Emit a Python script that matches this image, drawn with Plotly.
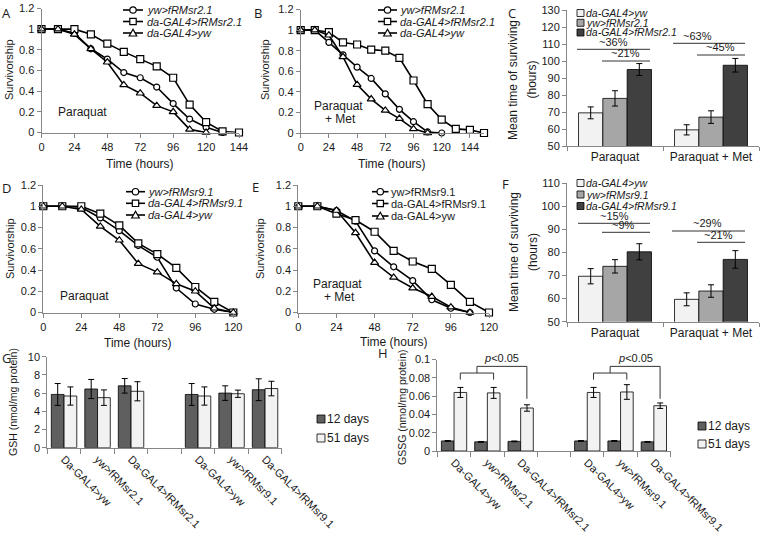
import plotly.graph_objects as go

W, H = 760, 538
def px(x): return x / W
def py(y): return 1 - y / H

# ---------------- DATA ----------------
hours_13 = [0, 12, 24, 36, 48, 60, 72, 84, 96, 108, 120, 132, 144, 156]

# Panel A (fRMsr2.1, Paraquat)
A_yw_fRMsr21 = [1, 1, 0.96, 0.81, 0.71, 0.58, 0.53, 0.44, 0.28, 0.13, 0.05, 0]
A_da_fRMsr21 = [1, 1, 1, 0.95, 0.86, 0.78, 0.71, 0.64, 0.53, 0.27, 0.10, 0.01, 0]
A_da_yw = [1, 1, 0.95, 0.81, 0.68, 0.46, 0.38, 0.26, 0.20, 0.03, 0]
# Panel B (fRMsr2.1, Paraquat + Met)
B_yw_fRMsr21 = [1, 1, 0.88, 0.76, 0.64, 0.53, 0.38, 0.23, 0.11, 0.01, 0]
B_da_fRMsr21 = [1, 1, 0.98, 0.88, 0.86, 0.81, 0.80, 0.73, 0.51, 0.28, 0.13, 0.04, 0.03, 0]
B_da_yw = [1, 1, 0.95, 0.74, 0.47, 0.33, 0.22, 0.14, 0.04, 0]
# Panel D (fRMsr9.1, Paraquat)
D_yw_fRMsr91 = [1, 1, 0.99, 0.89, 0.77, 0.63, 0.52, 0.23, 0.08, 0.03, 0]
D_da_fRMsr91 = [1, 1, 1, 0.93, 0.82, 0.65, 0.55, 0.42, 0.24, 0.10, 0]
D_da_yw = [1, 1, 0.97, 0.81, 0.68, 0.46, 0.38, 0.27, 0.20, 0.04, 0]
# Panel E (fRMsr9.1, Paraquat + Met)
E_yw_fRMsr91 = [1, 1, 0.96, 0.86, 0.58, 0.43, 0.30, 0.12, 0.04, 0]
E_da_fRMsr91 = [1, 1, 0.93, 0.87, 0.76, 0.58, 0.48, 0.41, 0.26, 0.10, 0]
E_da_yw = [1, 1, 0.96, 0.75, 0.47, 0.33, 0.23, 0.15, 0.05, 0]

# Panels C / F: mean time of surviving
treatments = ["Paraquat", "Paraquat + Met"]
C_da_yw = [69.5, 59.5];   C_da_yw_err = [3.5, 3.0]
C_yw_fRMsr21 = [78, 67];  C_yw_fRMsr21_err = [4.5, 3.7]
C_da_fRMsr21 = [95, 97.5]; C_da_fRMsr21_err = [3.5, 4.0]
F_da_yw = [69.7, 59.7];   F_da_yw_err = [3.3, 2.8]
F_yw_fRMsr91 = [74, 63.3]; F_yw_fRMsr91_err = [2.9, 2.7]
F_da_fRMsr91 = [80.3, 77]; F_da_fRMsr91_err = [3.5, 3.8]

# Panels G / H: glutathione
genotype_pos = [0, 1, 2, 4, 5, 6]
genotype_labels = ["Da-GAL4>yw", "yw>fRMsr2.1", "Da-GAL4>fRMsr2.1",
                   "Da-GAL4>yw", "yw>fRMsr9.1", "Da-GAL4>fRMsr9.1"]
GSH_12 = [5.85, 6.45, 6.8, 5.85, 6.0, 6.37]
GSH_12_err = [1.2, 1.05, 0.8, 1.2, 0.8, 1.2]
GSH_51 = [5.68, 5.5, 6.2, 5.68, 5.93, 6.5]
GSH_51_err = [1.0, 0.85, 1.05, 1.0, 0.4, 0.8]
GSSG_12 = [0.011, 0.010, 0.0105, 0.011, 0.011, 0.010]
GSSG_12_err = [0.0004, 0.0004, 0.0004, 0.0004, 0.0004, 0.0004]
GSSG_51 = [0.064, 0.0635, 0.047, 0.064, 0.0645, 0.0495]
GSSG_51_err = [0.0055, 0.006, 0.0035, 0.0055, 0.008, 0.003]

# ---------------- STYLE ----------------
FONT = "Liberation Sans, Arial, sans-serif"
AX = "#868686"
TF = dict(family=FONT, size=11, color="#1a1a1a")
C_LIGHT, C_MID, C_DARK, C_DARK2 = "#f2f2f2", "#a6a6a6", "#404040", "#5f5f5f"

fig = go.Figure()

def line_trace(y, sym, xa, ya):
    return go.Scatter(x=hours_13[:len(y)], y=y, mode="lines+markers", xaxis=xa, yaxis=ya,
                      line=dict(color="black", width=1.6), cliponaxis=False,
                      marker=dict(symbol=sym, size=6 if sym == "circle" else 7, color="white",
                                  line=dict(color="black", width=1.2)))

for ys, xa, ya in [((A_yw_fRMsr21, A_da_fRMsr21, A_da_yw), "x", "y"),
                   ((B_yw_fRMsr21, B_da_fRMsr21, B_da_yw), "x2", "y2"),
                   ((D_yw_fRMsr91, D_da_fRMsr91, D_da_yw), "x4", "y4"),
                   ((E_yw_fRMsr91, E_da_fRMsr91, E_da_yw), "x5", "y5")]:
    for y, s in zip(ys, ["circle", "square", "triangle-up"]):
        fig.add_trace(line_trace(y, s, xa, ya))

def bar(x, y, err, color, xa, ya):
    return go.Bar(x=x, y=y, xaxis=xa, yaxis=ya, marker=dict(color=color, line=dict(color="black", width=0.8)),
                  error_y=dict(type="data", array=err, color="black", thickness=1, width=3))

for vals, xa, ya in [(((C_da_yw, C_da_yw_err), (C_yw_fRMsr21, C_yw_fRMsr21_err), (C_da_fRMsr21, C_da_fRMsr21_err)), "x3", "y3"),
                     (((F_da_yw, F_da_yw_err), (F_yw_fRMsr91, F_yw_fRMsr91_err), (F_da_fRMsr91, F_da_fRMsr91_err)), "x6", "y6")]:
    for (v, e), col in zip(vals, [C_LIGHT, C_MID, C_DARK]):
        fig.add_trace(bar(treatments, v, e, col, xa, ya))

fig.add_trace(bar(genotype_pos, GSH_12, GSH_12_err, C_DARK2, "x7", "y7"))
fig.add_trace(bar(genotype_pos, GSH_51, GSH_51_err, C_LIGHT, "x7", "y7"))
fig.add_trace(bar(genotype_pos, GSSG_12, GSSG_12_err, C_DARK2, "x8", "y8"))
fig.add_trace(bar(genotype_pos, GSSG_51, GSSG_51_err, C_LIGHT, "x8", "y8"))

# ---------------- AXES ----------------
def axis(xd, **kw):
    d = dict(domain=xd, showline=True, linecolor=AX, linewidth=1, ticks="outside", ticklen=4,
             tickcolor=AX, tickwidth=1, tickfont=TF, showgrid=False, zeroline=False, fixedrange=True,
             automargin=False)
    d.update(kw)
    return d

def xd(a, b): return [px(a), px(b)]
def yd(top, bot): return [py(bot), py(top)]

surv_y = dict(range=[0, 1.2], tickvals=[0, 0.2, 0.4, 0.6, 0.8, 1, 1.2],
              ticktext=["0", "0.2", "0.4", "0.6", "0.8", "1", "1.2"])
lay = {}
lay["xaxis"] = axis(xd(41.5, 239), anchor="y", range=[0, 144], tickvals=[0, 24, 48, 72, 96, 120, 144])
lay["yaxis"] = axis(yd(8.5, 132.5), anchor="x", **surv_y)
lay["xaxis2"] = axis(xd(300.7, 484), anchor="y2", range=[0, 156], tickvals=[0, 24, 48, 72, 96, 120, 144])
lay["yaxis2"] = axis(yd(9.5, 133), anchor="x2", **surv_y)
lay["xaxis4"] = axis(xd(43.3, 233.3), anchor="y4", range=[0, 120], tickvals=[0, 24, 48, 72, 96, 120])
lay["yaxis4"] = axis(yd(185, 312.5), anchor="x4", **surv_y)
lay["xaxis5"] = axis(xd(298.3, 489), anchor="y5", range=[0, 120], tickvals=[0, 24, 48, 72, 96, 120])
lay["yaxis5"] = axis(yd(185, 312.5), anchor="x5", **surv_y)

lay["xaxis3"] = axis(xd(567, 759), anchor="y3", type="category", range=[-0.5, 1.5], tickson="boundaries",
                     tickfont=dict(family=FONT, size=12, color="#1a1a1a"))
lay["yaxis3"] = axis(yd(10, 146), anchor="x3", range=[50, 130], dtick=10)
lay["xaxis6"] = axis(xd(567, 759), anchor="y6", type="category", range=[-0.5, 1.5], tickson="boundaries",
                     tickfont=dict(family=FONT, size=12, color="#1a1a1a"))
lay["yaxis6"] = axis(yd(183.3, 321.7), anchor="x6", range=[50, 110], dtick=10)

bnds = [-0.5, 0.5, 1.5, 2.5, 3.5, 4.5, 5.5, 6.5]
lay["xaxis7"] = axis(xd(47.3, 281.8), anchor="y7", range=[-0.5, 6.5], tickvals=genotype_pos,
                     ticktext=genotype_labels, ticks="", tickangle=45,
                     minor=dict(tickmode="array", tickvals=bnds, ticks="outside", ticklen=5, tickcolor=AX))
lay["yaxis7"] = axis(yd(356.7, 447.7), anchor="x7", range=[0, 10], dtick=2)
lay["xaxis8"] = axis(xd(437.4, 670.5), anchor="y8", range=[-0.5, 6.5], tickvals=genotype_pos,
                     ticktext=genotype_labels, ticks="", tickangle=45,
                     minor=dict(tickmode="array", tickvals=bnds, ticks="outside", ticklen=5, tickcolor=AX))
lay["yaxis8"] = axis(yd(359.5, 451), anchor="x8", range=[0, 0.1], tickvals=[0, 0.02, 0.04, 0.06, 0.08, 0.1],
                     ticktext=["0", "0.02", "0.04", "0.06", "0.08", "0.1"])

# ---------------- ANNOTATIONS & SHAPES ----------------
ann, shp = [], []

def text(x, y, s, size=11, angle=0, xanchor="center", yanchor="middle", italic=False, family=FONT):
    ann.append(dict(x=px(x), y=py(y), xref="paper", yref="paper", text=s, showarrow=False,
                    textangle=angle, xanchor=xanchor, yanchor=yanchor, borderpad=0,
                    font=dict(family=family, size=size, color="#1a1a1a", style="italic" if italic else "normal")))

def pline(x0, y0, x1, y1, color="black", width=1):
    shp.append(dict(type="line", xref="paper", yref="paper", x0=px(x0), y0=py(y0), x1=px(x1), y1=py(y1),
                    line=dict(color=color, width=width)))

# panel letters
LET = "Open Sans, DejaVu Sans, sans-serif"
for L, x, y in [("A", 6, 13), ("B", 258, 13), ("C", 512, 13), ("D", 6, 188), ("E", 255, 187),
                ("F", 506, 184), ("G", 7, 358), ("H", 383, 353)]:
    text(x, y, L, size=13, family=LET)

# axis titles
for x, y in [(9, 70), (265, 70), (10, 249), (260, 249)]:
    text(x, y, "Survivorship", angle=-90)
for x, y in [(140, 163.5), (392, 163.5), (138, 343), (394, 342)]:
    text(x, y, "Time (hours)", size=12)
text(513, 80, "Mean time of surviving", size=12, angle=-90)
text(531.5, 80, "(hours)", size=12, angle=-90)
text(514, 252, "Mean time of surviving", size=12, angle=-90)
text(533, 252, "(hours)", size=12, angle=-90)
text(13, 402, "GSH (nmol/mg protein)", size=10.5, angle=-90)
text(402, 407, "GSSG (nmol/mg protein)", size=10.5, angle=-90)

# in-plot condition labels
text(82, 112, "Paraquat", size=12)
text(84, 296, "Paraquat", size=12)
text(338, 106, "Paraquat", size=12)
text(340, 119, "+ Met", size=12)
text(337, 283.5, "Paraquat", size=12)
text(339, 296.5, "+ Met", size=12)

# line-chart legends
def marker_shape(sym, cx, cy):
    r = 3.2
    if sym == "circle":
        shp.append(dict(type="circle", xref="paper", yref="paper", x0=px(cx - r), x1=px(cx + r),
                        y0=py(cy + r), y1=py(cy - r), fillcolor="white", line=dict(color="black", width=1.2)))
    elif sym == "square":
        shp.append(dict(type="rect", xref="paper", yref="paper", x0=px(cx - r), x1=px(cx + r),
                        y0=py(cy + r), y1=py(cy - r), fillcolor="white", line=dict(color="black", width=1.2)))
    else:
        path = "M {} {} L {} {} L {} {} Z".format(px(cx), py(cy - 3.8), px(cx - 3.8), py(cy + 3),
                                                   px(cx + 3.8), py(cy + 3))
        shp.append(dict(type="path", xref="paper", yref="paper", path=path, fillcolor="white",
                        line=dict(color="black", width=1.2)))

def line_legend(x0, x1, tx, rows, labels, italic=True):
    for y, lab, sym in zip(rows, labels, ["circle", "square", "triangle"]):
        pline(x0, y, x1, y, width=1.6)
        marker_shape(sym, (x0 + x1) / 2, y)
        text(tx, y, lab, xanchor="left", italic=italic)

line_legend(123, 143, 145.5, [10, 21.5, 33], ["yw&gt;fRMsr2.1", "da-GAL4&gt;fRMsr2.1", "da-GAL4&gt;yw"])
line_legend(378, 397, 399, [10, 21.5, 33], ["yw&gt;fRMsr2.1", "da-GAL4&gt;fRMsr2.1", "da-GAL4&gt;yw"])
line_legend(126, 145, 147, [191.7, 203.3, 215], ["yw&gt;fRMsr9.1", "da-GAL4&gt;fRMsr9.1", "da-GAL4&gt;yw"])
line_legend(372, 388.5, 390, [191.7, 203.5, 216], ["yw&gt;fRMsr9.1", "da-GAL4&gt;fRMsr9.1", "da-GAL4&gt;yw"],
            italic=False)

# bar-chart legends
def sq(cx, cy, color, r=3.5):
    shp.append(dict(type="rect", xref="paper", yref="paper", x0=px(cx - r), x1=px(cx + r),
                    y0=py(cy + r), y1=py(cy - r), fillcolor=color, line=dict(color="black", width=0.8)))

for rows, labs in [([13, 22.8, 32.5], ["da-GAL4&gt;yw", "yw&gt;fRMsr2.1", "da-GAL4&gt;fRMsr2.1"]),
                   ([183, 194.5, 206], ["da-GAL4&gt;yw", "yw&gt;fRMsr9.1", "da-GAL4&gt;fRMsr9.1"])]:
    for y, lab, col in zip(rows, labs, [C_LIGHT, C_MID, C_DARK]):
        sq(580.5, y, col)
        text(585, y, lab, size=10.5, xanchor="left", italic=True)

for x, rows in [(321, [419, 438]), (702, [426, 444])]:
    sq(x, rows[0], C_DARK2, r=4)
    text(x + 5, rows[0], "12 days", size=12, xanchor="left")
    sq(x, rows[1], C_LIGHT, r=4)
    text(x + 5, rows[1], "51 days", size=12, xanchor="left")

# percentage brackets in C and F
for (tx, s), (x0, x1, ly) in [((613, "~36%"), (577, 650, 49.3)),
                              ((625, "~21%"), (602, 650, 61)),
                              ((697, "~63%"), (673, 745, 43.3)),
                              ((720, "~45%"), (697, 745, 55)),
                              ((614, "~15%"), (578, 650, 223.3)),
                              ((623, "~9%"), (602, 650, 232.3)),
                              ((707, "~29%"), (672, 745, 231)),
                              ((718, "~21%"), (697, 745, 242.3))]:
    pline(x0, ly, x1, ly, color="#333333", width=1)
    text(tx, ly - 0.8, s, size=11, yanchor="bottom")

# significance brackets in H (data coordinates)
def dline(x0, y0, x1, y1):
    shp.append(dict(type="line", xref="x8", yref="y8", x0=x0, y0=y0, x1=x1, y1=y1,
                    line=dict(color="#333333", width=1)))
off = 0.1875
for g in [0, 4]:
    a, b, c = g + off, g + 1 + off, g + 2 + off
    m = (a + b) / 2
    dline(a, 0.0852, b, 0.0852)
    dline(a, 0.0852, a, 0.078)
    dline(b, 0.0852, b, 0.078)
    dline(m, 0.0852, m, 0.0925)
    dline(m, 0.0925, c, 0.0925)
    dline(c, 0.0925, c, 0.057)
    ann.append(dict(x=(m + c) / 2, y=0.0935, xref="x8", yref="y8", text="<i>p</i>&lt;0.05",
                    showarrow=False, yanchor="bottom", borderpad=0,
                    font=dict(family=FONT, size=11, color="#1a1a1a")))

fig.update_layout(width=W, height=H, margin=dict(l=0, r=0, t=0, b=0, pad=0, autoexpand=False), autosize=False,
                  paper_bgcolor="white", plot_bgcolor="white", showlegend=False,
                  barmode="group", bargap=0.24, bargroupgap=0, annotations=ann, shapes=shp, **lay)

fig.write_html("out.html", config={"displayModeBar": False},
               post_script="document.body.style.margin='0px';document.body.style.overflow='hidden';")
